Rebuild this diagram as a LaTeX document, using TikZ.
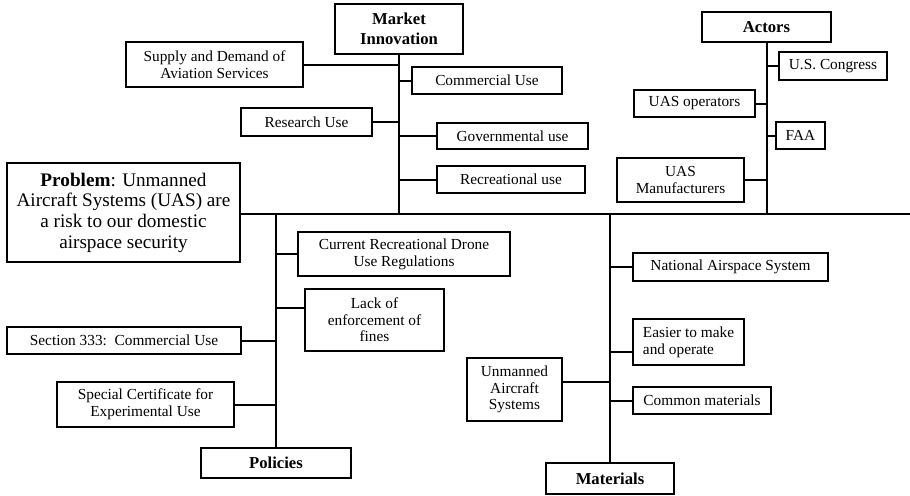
\documentclass[tikz,border=0pt]{standalone}
\usepackage{fontspec}
\setmainfont{Liberation Serif}
\usepackage{tikz}
\tikzset{wh/.style 2 args={minimum width=#1*0.75pt, minimum height=#2*0.75pt}}

\begin{document}
\begin{tikzpicture}[
  x=0.75pt, y=-0.75pt,
  leaf/.style={draw=black, fill=white, align=center, inner sep=0pt, line width=1.4pt, font=\fontsize{11.5}{12.5}\selectfont},
  head/.style={leaf, font=\fontsize{12.5}{15}\selectfont\bfseries},
  problem/.style={leaf, font=\fontsize{14.4}{15.5}\selectfont},
  bone/.style={line width=1.5pt, black}
]
\useasboundingbox (0,0) rectangle (910,496);

% problem and spine
\node[problem, wh={233}{99}] (prob) at (123.5,212.5) {\textbf{Problem}: Unmanned\\Aircraft Systems (UAS) are\\a risk to our domestic\\airspace security};
\coordinate (fin) at (910,214);

% market innovation
\node[head, wh={128}{50}] (mi) at (399,29) {Market\\Innovation};
\node[leaf, wh={177}{45}] (sup) at (214.5,64.5) {Supply and Demand of\\Aviation Services};
\node[leaf, wh={150}{27}] (com) at (487,80.5) {Commercial Use};
\node[leaf, wh={131}{28}] (res) at (306.5,122) {Research Use};
\node[leaf, wh={151}{26}] (gov) at (512.5,136) {Governmental use};
\node[leaf, wh={148}{27}] (rec) at (511,179.5) {Recreational use};

% actors
\node[head, wh={129}{30}] (act) at (766.5,27) {Actors};
\node[leaf, wh={108}{28}] (usc) at (833,66) {U.S. Congress};
\node[leaf, wh={121}{27}] (ope) at (694.5,103.5) {UAS operators};
\node[leaf, wh={49}{27}] (faa) at (800.5,135.5) {FAA};
\node[leaf, wh={127}{44}] (man) at (680.5,180) {UAS\\Manufacturers};

% policies
\node[head, wh={150}{30}] (pol) at (276,463) {Policies};
\node[leaf, wh={212}{44}] (cur) at (404,254) {Current Recreational Drone\\Use Regulations};
\node[leaf, wh={139}{62}] (lack) at (374.5,320) {Lack of\\enforcement of\\fines};
\node[leaf, wh={234}{27}] (sec) at (124,340.5) {Section 333:\ \ Commercial Use};
\node[leaf, wh={177}{45}] (spe) at (145.5,404.5) {Special Certificate for\\Experimental Use};

% materials
\node[head, wh={128}{31}] (mat) at (610,478.5) {Materials};
\node[leaf, wh={195}{28}] (nas) at (730.5,267) {National Airspace System};
\node[leaf, wh={111}{46}, align=left] (eas) at (688.5,342) {Easier to make\\and operate};
\node[leaf, wh={138}{27}] (cmm) at (702,400.5) {Common materials};
\node[leaf, wh={95}{63}] (uas) at (514.5,389.5) {Unmanned\\Aircraft\\Systems};

\coordinate (lk) at ([yshift=9pt]lack.west);
\coordinate (ez) at ([yshift=-7.5pt]eas.west);
\coordinate (un) at ([yshift=5.6pt]uas.east);

\draw[bone] (prob.east |- fin) -- (fin);
\draw[bone] (mi.south) -- (mi.south |- fin);
\draw[bone] (act.south) -- (act.south |- fin);
\draw[bone] (pol.north) -- (pol.north |- fin);
\draw[bone] (mat.north) -- (mat.north |- fin);

\draw[bone] (sup.east) -- (sup.east -| mi.south);
\draw[bone] (com.west) -- (com.west -| mi.south);
\draw[bone] (res.east) -- (res.east -| mi.south);
\draw[bone] (gov.west) -- (gov.west -| mi.south);
\draw[bone] (rec.west) -- (rec.west -| mi.south);

\draw[bone] (usc.west) -- (usc.west -| act.south);
\draw[bone] (ope.east) -- (ope.east -| act.south);
\draw[bone] (faa.west) -- (faa.west -| act.south);
\draw[bone] (man.east) -- (man.east -| act.south);

\draw[bone] (cur.west) -- (cur.west -| pol.north);
\draw[bone] (lk) -- (lk -| pol.north);
\draw[bone] (sec.east) -- (sec.east -| pol.north);
\draw[bone] (spe.east) -- (spe.east -| pol.north);

\draw[bone] (nas.west) -- (nas.west -| mat.north);
\draw[bone] (ez) -- (ez -| mat.north);
\draw[bone] (cmm.west) -- (cmm.west -| mat.north);
\draw[bone] (un) -- (un -| mat.north);
\end{tikzpicture}
\end{document}
